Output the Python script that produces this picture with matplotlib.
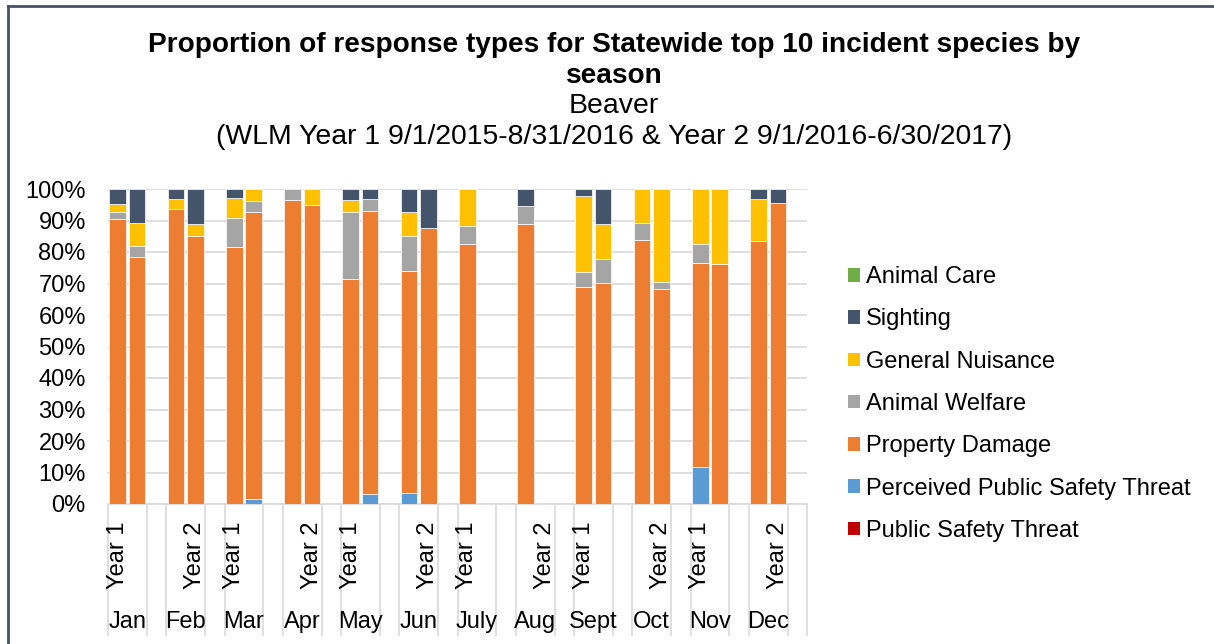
import numpy as np
import matplotlib
matplotlib.use("Agg")
import matplotlib.pyplot as plt
from matplotlib.lines import Line2D
from matplotlib.patches import Patch

plt.rcParams['font.family'] = ['Liberation Sans', 'DejaVu Sans']

months = ["Jan", "Feb", "Mar", "Apr", "May", "Jun", "July", "Aug", "Sept", "Oct", "Nov", "Dec"]
year_labels = ["Year 1", "Year 2"]

# bar order: Jan Y1, Jan Y2, Feb Y1, Feb Y2, ... (24 bars); values in %
public_safety_threat = [0, 0, 0, 0, 0, 0, 0, 0, 0, 0, 0, 0,
                        0, 0, 0, 0, 0, 0, 0, 0, 0, 0, 0, 0]
perceived_threat = [0, 0, 0, 0, 0, 1.5, 0, 0, 0, 3.2, 3.4, 0,
                    0, 0, 0, 0, 0, 0, 0, 0, 11.6, 0, 0, 0]
property_damage = [90.5, 78.5, 93.7, 85.2, 81.7, 91.1, 96.6, 95.0, 71.4, 89.9, 70.7, 87.5,
                   82.4, 0, 89.0, 0, 69.0, 70.3, 83.8, 68.1, 64.8, 76.3, 83.4, 95.6]
animal_welfare = [2.3, 3.5, 0, 0, 9.2, 3.7, 3.4, 0, 21.4, 3.6, 11.1, 0,
                  6.0, 0, 5.5, 0, 4.8, 7.4, 5.4, 2.4, 6.0, 0, 0, 0]
general_nuisance = [2.5, 7.3, 3.2, 3.8, 6.1, 3.7, 0, 5.0, 3.7, 0, 7.4, 0,
                    11.6, 0, 0, 0, 23.9, 11.3, 10.8, 29.5, 17.6, 23.7, 13.3, 0]
sighting = [4.7, 10.7, 3.1, 11.0, 3.0, 0, 0, 0, 3.5, 3.3, 7.4, 12.5,
            0, 0, 5.5, 0, 2.3, 11.0, 0, 0, 0, 0, 3.3, 4.4]
animal_care = [0] * 24

series = [
    ("Public Safety Threat", public_safety_threat, "#C00000"),
    ("Perceived Public Safety Threat", perceived_threat, "#5B9BD5"),
    ("Property Damage", property_damage, "#ED7D31"),
    ("Animal Welfare", animal_welfare, "#A5A5A5"),
    ("General Nuisance", general_nuisance, "#FFC000"),
    ("Sighting", sighting, "#44546A"),
    ("Animal Care", animal_care, "#70AD47"),
]

W, H = 1214, 644
fig = plt.figure(figsize=(W / 100, H / 100), dpi=100)
ax = fig.add_axes([108 / W, (H - 504) / H, (807 - 108) / W, (504 - 189) / H])

# slot positions: each month has 3 slots (Y1, Y2, gap)
xpos = np.array([3 * m + k for m in range(12) for k in range(2)], dtype=float)

bottom = np.zeros(24)
for name, vals, col in series:
    v = np.array(vals, dtype=float)
    h = np.where(v > 0, v, np.nan)
    ax.bar(xpos, h, bottom=bottom, width=0.86, color=col, edgecolor="white",
           linewidth=0.5, label=name, zorder=3)
    bottom += v

FS = 17
ax.set_xlim(-0.5, 35.5)
ax.set_ylim(0, 100)
ax.set_yticks(np.arange(0, 101, 10))
ax.set_yticklabels([f"{t}%" for t in range(0, 101, 10)], fontsize=FS)
ax.tick_params(axis="y", length=0, pad=16)
ax.yaxis.grid(True, color="#D9D9D9", linewidth=1.2, zorder=0)
for s in ["left", "right", "top"]:
    ax.spines[s].set_visible(False)
ax.spines["bottom"].set_color("#D9D9D9")
ax.spines["bottom"].set_linewidth(1.2)

# category separators as long tick marks
bounds = []
for m in range(12):
    bounds += [3 * m - 0.5, 3 * m + 1.5]
bounds.append(35.5)
ax.set_xticks(bounds)
ax.set_xticklabels([""] * len(bounds))
ax.tick_params(axis="x", length=95, width=1.2, color="#D9D9D9", direction="out")

tr = ax.get_xaxis_transform()
for m, mon in enumerate(months):
    yl = year_labels[m % 2]
    xl = 3 * m + (0 if m % 2 == 0 else 1)
    ax.text(xl, -0.054, yl, transform=tr, rotation=90, ha="center", va="top", fontsize=FS)
    ax.text(3 * m + 0.5, -0.375, mon, transform=tr, ha="center", va="center", fontsize=FS)

# titles
cx = 614 / W
fig.text(cx, 1 - 45 / H, "Proportion of response types for Statewide top 10 incident species by",
         ha="center", va="center", fontsize=20.2, fontweight="bold")
fig.text(cx, 1 - 76 / H, "season", ha="center", va="center", fontsize=20.2, fontweight="bold")
fig.text(cx, 1 - 106 / H, "Beaver", ha="center", va="center", fontsize=20.4)
fig.text(cx, 1 - 137 / H, "(WLM Year 1 9/1/2015-8/31/2016 & Year 2 9/1/2016-6/30/2017)",
         ha="center", va="center", fontsize=20.4)

# legend
order = ["Animal Care", "Sighting", "General Nuisance", "Animal Welfare",
         "Property Damage", "Perceived Public Safety Threat", "Public Safety Threat"]
cols = {n: c for n, _, c in series}
leg_handles = [Patch(facecolor=cols[n], edgecolor="none") for n in order]
fig.legend(leg_handles, order, loc="center left", bbox_to_anchor=(848 / W, 1 - 404 / H),
           frameon=False, fontsize=FS, handlelength=0.51, handleheight=0.51,
           handletextpad=0.25, labelspacing=0.86, borderpad=0, borderaxespad=0)

# figure border (left and top)
fig.add_artist(Line2D([8 / W, 8 / W], [0, 1 - 6 / H], color="#44546A", linewidth=2,
                      transform=fig.transFigure))
fig.add_artist(Line2D([8 / W, 1], [1 - 6 / H, 1 - 6 / H], color="#44546A", linewidth=2,
                      transform=fig.transFigure))

fig.savefig("out.png", dpi=100)
